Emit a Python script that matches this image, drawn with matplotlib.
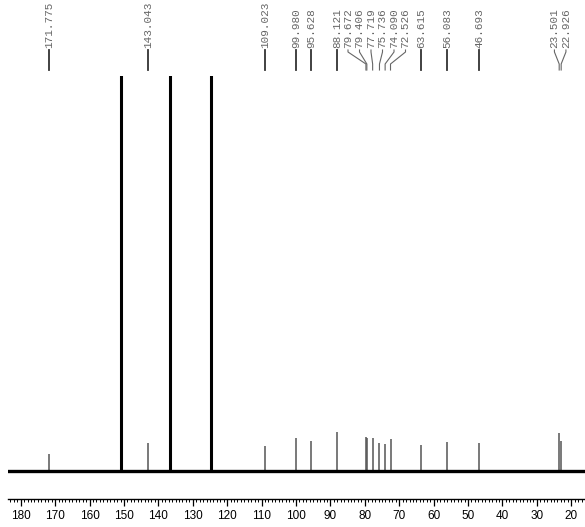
import matplotlib
matplotlib.use("Agg")
import matplotlib.pyplot as plt
from matplotlib.lines import Line2D
from matplotlib.ticker import MultipleLocator

# ---- data (ppm, intensity in arbitrary units) ----
peak_ppm = [171.775, 143.043, 109.023, 99.980, 95.628, 88.121, 79.672, 79.406,
            77.719, 75.736, 74.090, 72.526, 63.615, 56.083, 46.693, 23.501, 22.926]
peak_height = [17, 28, 25, 33, 30, 39, 34, 33, 33, 28, 27, 32, 26, 29, 28, 38, 30]

solvent_ppm = [151.0, 136.6, 124.7]
solvent_height = [1000, 1000, 1000]

x_ticks = [180, 170, 160, 150, 140, 130, 120, 110, 100, 90, 80, 70, 60, 50, 40, 30, 20]

W, H = 585, 527
fig = plt.figure(figsize=(W / 100, H / 100), dpi=100)
ax = fig.add_axes([8 / W, (H - 499) / H, (W - 8) / W, (499 - 76) / H])
ax.set_xlim(183.7, 16.0)
ax.set_ylim(-28.3, 394.7)

# baseline
ax.axhline(0, color="black", lw=2.4, zorder=3)
# solvent (big) peaks
ax.vlines(solvent_ppm, 0, solvent_height, color="black", lw=2.2, zorder=2)
# labelled peaks
ax.vlines(peak_ppm, 0, peak_height, color="#555555", lw=1.1, zorder=2)

for s in ["top", "left", "right"]:
    ax.spines[s].set_visible(False)
ax.spines["bottom"].set_linewidth(1.0)
ax.set_yticks([])
ax.set_xticks(x_ticks)
ax.set_xticklabels([str(t) for t in x_ticks], fontsize=8.5, family="Liberation Sans")
ax.xaxis.set_minor_locator(MultipleLocator(1))
ax.tick_params(axis="x", which="major", length=5, width=0.9, pad=3, direction="out")
ax.tick_params(axis="x", which="minor", length=2.5, width=0.7, direction="out")

# ---- peak labels above the axes ----
def fx(px):
    return px / W

def fy(py):
    return 1 - py / H

pix = [ax.transData.transform((p, 0))[0] for p in peak_ppm]
order = sorted(range(len(pix)), key=lambda i: pix[i])
spacing = 11.5
clusters = []
for i in order:
    if clusters and pix[i] - pix[clusters[-1][-1]] < spacing:
        clusters[-1].append(i)
    else:
        clusters.append([i])

label_x = {}
for c in clusters:
    m = sum(pix[i] for i in c) / len(c)
    n = len(c)
    for k, i in enumerate(c):
        label_x[i] = m + (k - (n - 1) / 2) * spacing

for i, p in enumerate(peak_ppm):
    lx, px = label_x[i], pix[i]
    fig.text(fx(lx), fy(48), f"{p:.3f}", rotation=90, ha="center", va="bottom",
             fontsize=7.9, family="Liberation Mono", color="#666666")
    if abs(lx - px) < 0.5:
        xs, ys = [lx, lx], [50, 70]
        lw, col = 1.3, "#333333"
    else:
        xs, ys = [lx, lx, px, px], [50, 52, 64, 70]
        lw, col = 0.8, "#666666"
    fig.add_artist(Line2D([fx(x) for x in xs], [fy(y) for y in ys],
                          transform=fig.transFigure, color=col, lw=lw))

fig.savefig("out.png", dpi=100, facecolor="white")
